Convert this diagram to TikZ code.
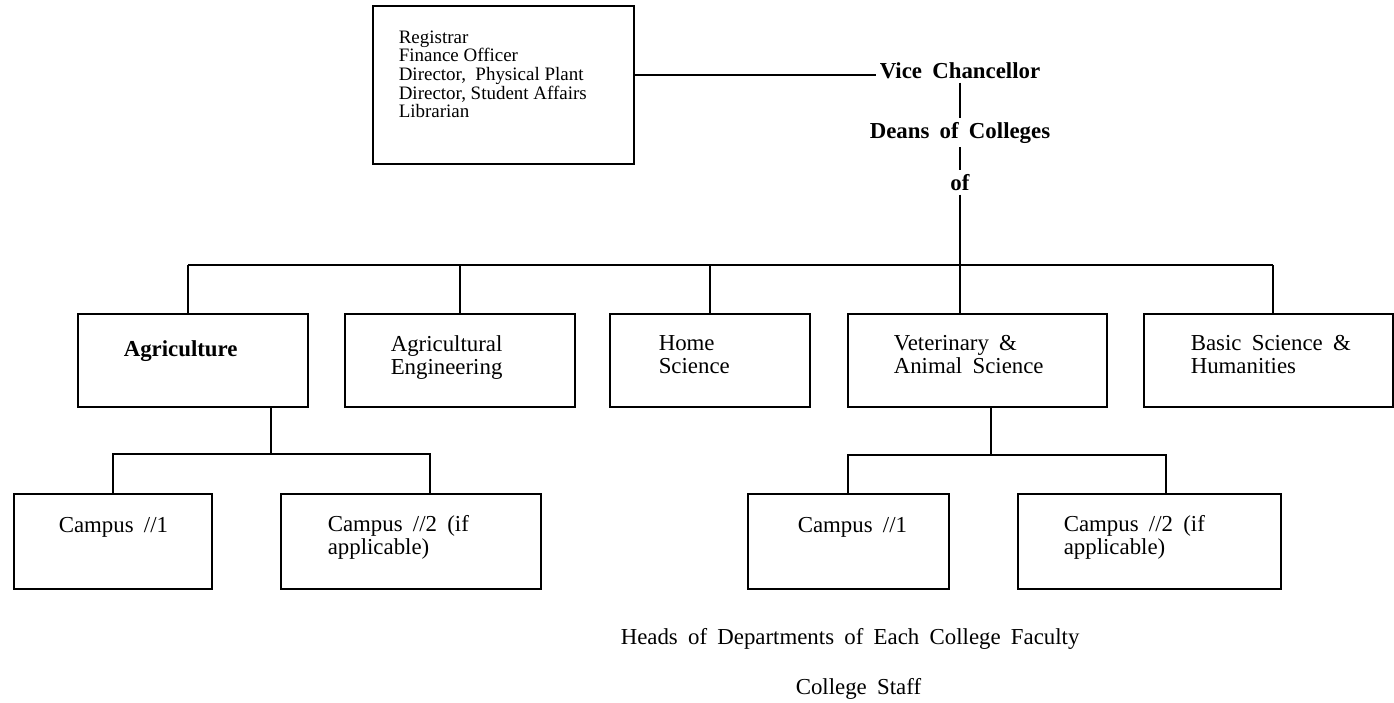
\documentclass[tikz,border=0pt]{standalone}
\usepackage{fontspec}
\setmainfont{Liberation Serif}

\begin{document}
\begin{tikzpicture}
    [x=0.02cm, y=-0.02cm,
    line width=0.9pt,
    box/.style={draw, inner sep=0pt, anchor=north west},
    college/.style={box, minimum height=1.86cm},
    campus/.style={box, minimum height=1.9cm},
    txt/.style={inner sep=0pt, anchor=north west, align=left,
        font={\fontsize{13}{12.8}\selectfont\spaceskip.45em\lineskiplimit-10pt\relax}},
    head/.style={inner sep=2pt, anchor=base,
        font={\bfseries\fontsize{13}{13}\selectfont\spaceskip.45em\relax}}]
        \useasboundingbox (0,0) rectangle (1394,703);

        %% Officers
        \node[box, minimum width=5.22cm, minimum height=3.16cm] (staff) at (372,5) {};
        \node[txt, font={\fontsize{10.8}{10.6}\selectfont\lineskiplimit-10pt\relax}]
            (stafftxt) at ([shift={(26,25)}]staff.north west)
            {Registrar\\Finance Officer\\Director,\ \ Physical Plant\\Director, Student Affairs\\Librarian};

        %% Vice Chancellor and Deans
        \node[head] (vc) at (960,78) {Vice Chancellor};
        \node[head] (deans) at (960,138) {Deans of Colleges};
        \node[head] (of) at (960,190) {of};
        \coordinate (bus) at (960,265);

        %% Colleges
        \node[college, minimum width=4.6cm] (agr) at (77,313) {};
        \node[college, minimum width=4.6cm] (agreng) at (344,313) {};
        \node[college, minimum width=4.0cm] (home) at (609,313) {};
        \node[college, minimum width=5.18cm] (vet) at (847,313) {};
        \node[college, minimum width=4.98cm] (basic) at (1143,313) {};
        \node[txt, font={\bfseries\fontsize{13}{12.8}\selectfont}] (agrtxt) at ([shift={(46,27)}]agr.north west) {Agriculture};
        \node[txt] (agrengtxt) at ([shift={(46,22)}]agreng.north west) {Agricultural\\Engineering};
        \node[txt] (hometxt) at ([shift={(49,22)}]home.north west) {Home\\Science};
        \node[txt] (vettxt) at ([shift={(46,22)}]vet.north west) {Veterinary \&\\Animal Science};
        \node[txt] (basictxt) at ([shift={(47,22)}]basic.north west) {Basic Science \&\\Humanities};

        %% Campuses
        \node[campus, minimum width=3.96cm] (ca1) at (13,493) {};
        \node[campus, minimum width=5.2cm] (ca2) at (280,493) {};
        \node[campus, minimum width=4.02cm] (cv1) at (747,493) {};
        \node[campus, minimum width=5.26cm] (cv2) at (1017,493) {};
        \node[txt] (ca1txt) at ([shift={(45,24)}]ca1.north west) {Campus //1};
        \node[txt] (ca2txt) at ([shift={(47,22)}]ca2.north west) {Campus //2 (if\\applicable)};
        \node[txt] (cv1txt) at ([shift={(50,24)}]cv1.north west) {Campus //1};
        \node[txt] (cv2txt) at ([shift={(46,22)}]cv2.north west) {Campus //2 (if\\applicable)};
        \coordinate (agrfork) at (271,454);
        \coordinate (vetfork) at (991,455);

        %% Lower levels
        \node[txt] (heads) at (620,628) {Heads of Departments of Each College Faculty};
        \node[txt] (colstaff) at (795,678) {College Staff};

        \draw ([yshift=0.06cm]vc.base west) -- ([yshift=0.06cm]vc.base west -| staff.east);
        \draw (vc.south) -- (deans.north);
        \draw (deans.south) -- (of.north);
        \draw (of.south) -- (bus);
        \draw ([xshift=-0.1cm]agr.north |- bus) -- ([xshift=0.1cm]basic.north |- bus);
        \draw ([xshift=-0.1cm]agr.north |- bus) -- ([xshift=-0.1cm]agr.north);
        \draw (agreng.north |- bus) -- (agreng.north);
        \draw (home.north |- bus) -- (home.north);
        \draw (bus) -- (bus |- vet.north);
        \draw ([xshift=0.1cm]basic.north |- bus) -- ([xshift=0.1cm]basic.north);
        \draw (agrfork |- agr.south) -- (agrfork);
        \draw (ca1.north) |- (agrfork) -| ([xshift=0.38cm]ca2.north);
        \draw (vetfork |- vet.south) -- (vetfork);
        \draw (cv1.north) |- (vetfork) -| ([xshift=0.34cm]cv2.north);
\end{tikzpicture}
\end{document}
